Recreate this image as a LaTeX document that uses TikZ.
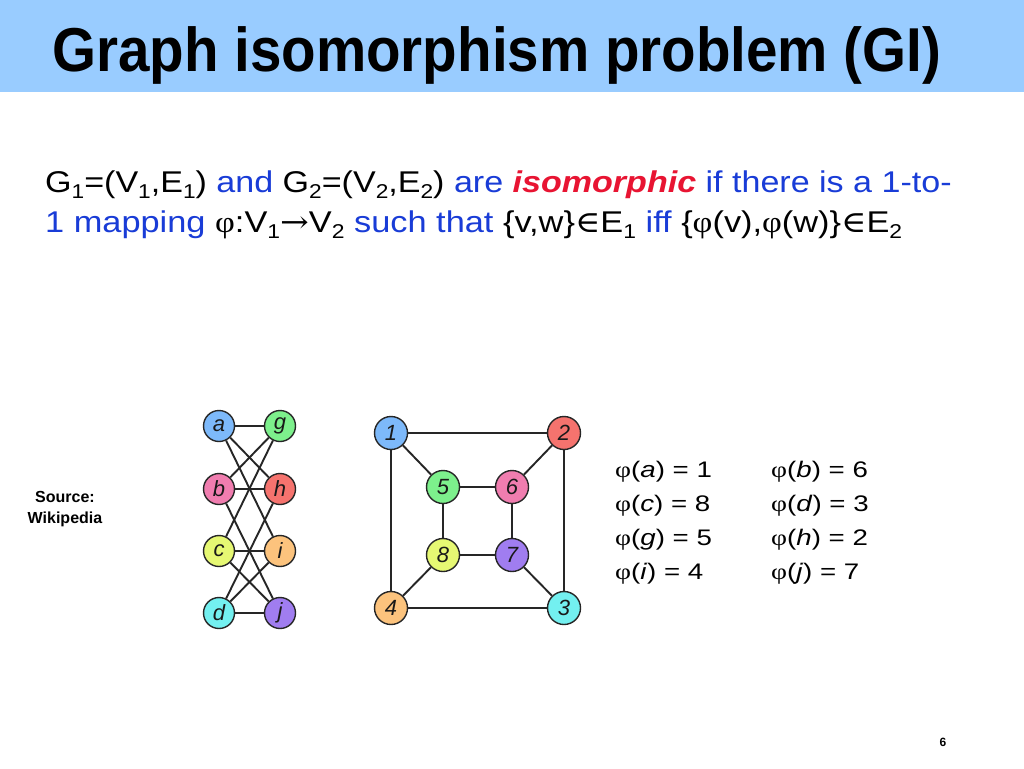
\documentclass[tikz,border=0pt]{standalone}
\usepackage{fontspec}
\setmainfont{Liberation Sans}
\newfontfamily\serf{Liberation Serif}
\newfontfamily\symb{DejaVu Serif}
\definecolor{barblue}{RGB}{153,204,255}
\definecolor{txtblue}{RGB}{25,60,215}
\definecolor{isored}{RGB}{232,20,50}
\definecolor{cblue}{RGB}{125,185,250}
\definecolor{cgreen}{RGB}{125,240,140}
\definecolor{cpink}{RGB}{240,125,175}
\definecolor{csalmon}{RGB}{245,115,110}
\definecolor{cyellow}{RGB}{230,248,115}
\definecolor{corange}{RGB}{252,195,125}
\definecolor{ccyan}{RGB}{115,240,240}
\definecolor{cpurple}{RGB}{160,125,240}
\newcommand{\sbs}[1]{\raisebox{-0.22em}{\fontsize{20}{20}\selectfont #1}}
\newcommand{\ph}{{\serf φ}}
\begin{document}
\begin{tikzpicture}[x=1pt,y=-1pt,
  gnode/.style={circle, draw=black!85, line width=1.4pt, minimum size=31pt, inner sep=0pt,
    font=\fontsize{22}{22}\selectfont\itshape, text=black!90},
  bignode/.style={gnode, minimum size=33pt},
  edge/.style={line width=1.9pt, black!85},
  body/.style={anchor=base west, inner sep=0pt, font=\fontsize{30}{36}\selectfont},
  maptxt/.style={anchor=base west, inner sep=0pt, font=\fontsize{22.5}{26}\selectfont}]
\fill[white] (0,0) rectangle (1024,768);
\useasboundingbox (0,0) rectangle (1024,768);
\fill[barblue] (0,0) rectangle (1024,92);
\node[anchor=base west, inner sep=0pt, font=\fontsize{62}{66}\selectfont\bfseries] (title) at (52,71) {\scalebox{0.912}[1]{Graph isomorphism problem (GI)}};

\node[body] (l1) at (45,192) {\scalebox{1.135}[1]{G\sbs{1}=(V\sbs{1},E\sbs{1}) \textcolor{txtblue}{and} G\sbs{2}=(V\sbs{2},E\sbs{2}) \textcolor{txtblue}{are} \textcolor{isored}{\bfseries\itshape isomorphic} \textcolor{txtblue}{if there is a 1-to-}}};
\node[body] (l2) at (45,232) {\scalebox{1.145}[1]{\textcolor{txtblue}{1 mapping} \ph:V\sbs{1}{\symb→}V\sbs{2} \textcolor{txtblue}{such that} \{v,w\}{\symb∈}E\sbs{1} \textcolor{txtblue}{iff} \{\ph(v),\ph(w)\}{\symb∈}E\sbs{2}}};

% left graph
\node[gnode, fill=cblue] (a) at (219,426) {a};
\node[gnode, fill=cgreen] (g) at (280,426) {g};
\node[gnode, fill=cpink] (b) at (219,489) {b};
\node[gnode, fill=csalmon] (h) at (280,489) {h};
\node[gnode, fill=cyellow] (c) at (219,551) {c};
\node[gnode, fill=corange] (i) at (280,551) {i};
\node[gnode, fill=ccyan] (d) at (219,613) {d};
\node[gnode, fill=cpurple] (j) at (280,613) {j};
\foreach \u/\v in {a/g,a/h,a/i,b/g,b/h,b/j,c/g,c/i,c/j,d/h,d/i,d/j}
  \draw[edge] (\u) -- (\v);

% right graph
\node[bignode, fill=cblue] (n1) at (391,433) {1};
\node[bignode, fill=csalmon] (n2) at (564,433) {2};
\node[bignode, fill=ccyan] (n3) at (564,608) {3};
\node[bignode, fill=corange] (n4) at (391,608) {4};
\node[bignode, fill=cgreen] (n5) at (443,487) {5};
\node[bignode, fill=cpink] (n6) at (512,487) {6};
\node[bignode, fill=cpurple] (n7) at (512,555) {7};
\node[bignode, fill=cyellow] (n8) at (443,555) {8};
\foreach \u/\v in {n1/n2,n2/n3,n3/n4,n4/n1,n5/n6,n6/n7,n7/n8,n8/n5,n1/n5,n2/n6,n3/n7,n4/n8}
  \draw[edge] (\u) -- (\v);

% mapping
\node[maptxt] (ma) at (615,477) {\scalebox{1.23}[1]{\ph(\textit{a}) = 1}};
\node[maptxt] (mc) at (615,511) {\scalebox{1.23}[1]{\ph(\textit{c}) = 8}};
\node[maptxt] (mg) at (615,545) {\scalebox{1.23}[1]{\ph(\textit{g}) = 5}};
\node[maptxt] (mi) at (615,579) {\scalebox{1.23}[1]{\ph(\textit{i}) = 4}};
\node[maptxt] (mb) at (771,477) {\scalebox{1.23}[1]{\ph(\textit{b}) = 6}};
\node[maptxt] (md) at (771,511) {\scalebox{1.23}[1]{\ph(\textit{d}) = 3}};
\node[maptxt] (mh) at (771,545) {\scalebox{1.23}[1]{\ph(\textit{h}) = 2}};
\node[maptxt] (mj) at (771,579) {\scalebox{1.23}[1]{\ph(\textit{j}) = 7}};

\node[align=center, inner sep=0pt, font=\fontsize{16}{21}\selectfont\bfseries] (src) at (65,509) {Source:\\Wikipedia};
\node[anchor=base, inner sep=0pt, font=\fontsize{12}{12}\selectfont\bfseries] (pg) at (943,746) {6};
\end{tikzpicture}
\end{document}
